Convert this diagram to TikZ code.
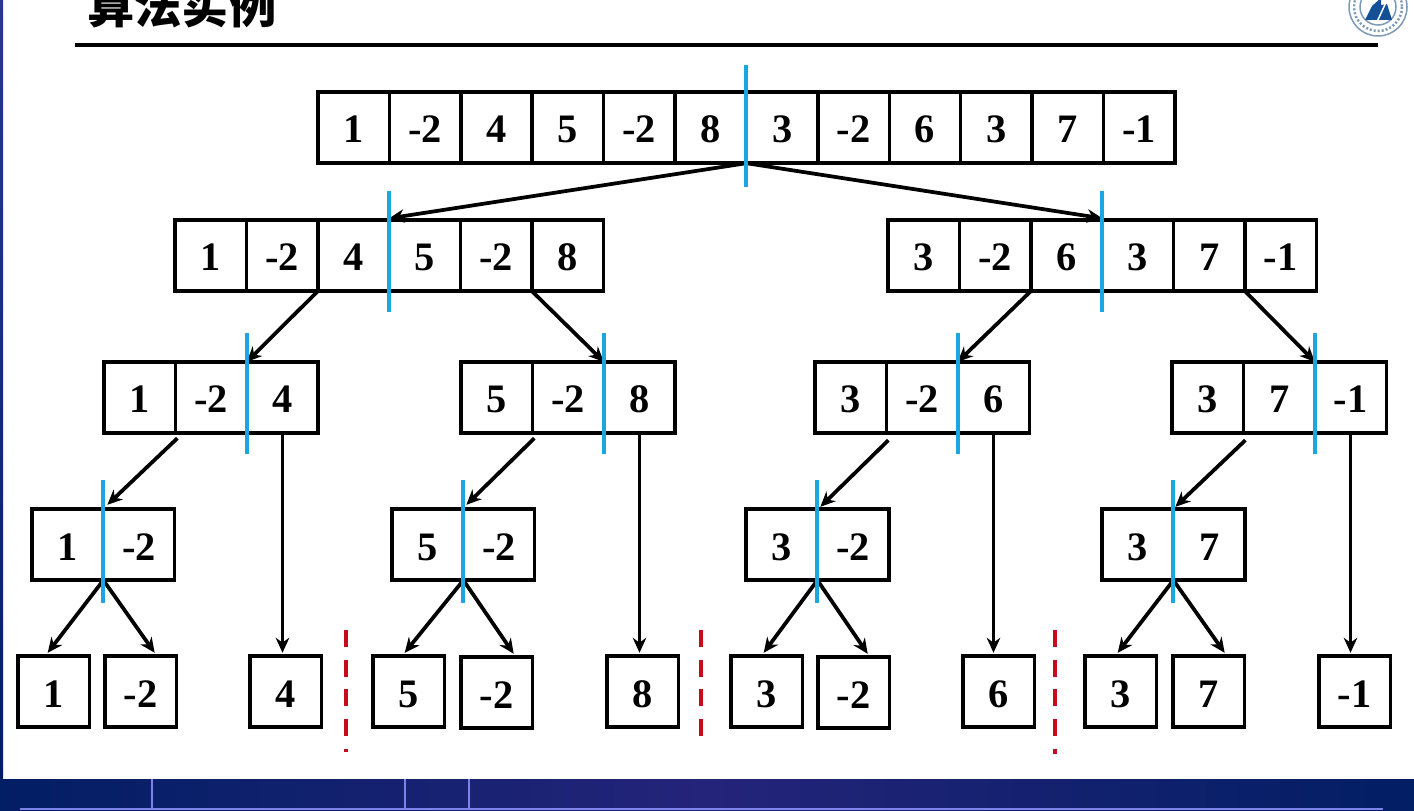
\documentclass[tikz,border=0pt]{standalone}
\usepackage{fontspec}
\setmainfont{Liberation Serif}
\newfontfamily\cjk{Noto Sans CJK SC}
\usetikzlibrary{arrows.meta, calc}
\definecolor{cutblue}{RGB}{28,166,224}
\definecolor{sepred}{RGB}{200,10,30}
\definecolor{bandnavy}{RGB}{2,30,100}
\definecolor{bandmid}{RGB}{36,36,122}
\definecolor{bandline}{RGB}{125,130,235}
\definecolor{striptop}{RGB}{40,56,140}
\definecolor{sealblue}{RGB}{20,80,150}
\definecolor{sealring}{RGB}{125,155,185}
% one row of joined cells: name, left edge, centre y, values
\newcommand{\cellrow}[4]{
    \foreach \val [count=\i] in {#4} {
        \node[cell] (#1\i) at ({#2+71.4*\i-35.7},#3) {\val};
    }
}

\begin{document}
\begin{tikzpicture}[x=0.02cm, y=-0.02cm,
    cell/.style={draw, line width=0.068cm, minimum width=1.428cm, minimum height=1.428cm, inner sep=0pt, outer sep=0pt, text height=0.62cm, text depth=0pt, font=\fontsize{23}{23}\selectfont\bfseries},
    cut/.style={cutblue, line width=0.08cm},
    link/.style={-{Stealth[length=0.3cm, width=0.27cm]}, line width=0.075cm},
    sep/.style={sepred, line width=0.065cm, dash pattern=on 0.34cm off 0.254cm},
    rule/.style={line width=0.075cm},
    bandedge/.style={bandline, line width=0.03cm}
]
\clip (0,0) rectangle (1414,811);
\fill[white] (0,0) rectangle (1414,811);

% Frame of the slide
\shade[top color=striptop, bottom color=bandnavy] (0,0) rectangle (3,779);
\shade[left color=bandnavy, right color=bandnavy, middle color=bandmid] (0,779) rectangle (1414,811);
\foreach \x in {152,405,469} {
    \draw[bandedge] (\x,779) -- (\x,809);
}
\draw[bandedge] (20,809) -- (1383,809);

% Title
\node[font=\cjk\fontsize{26.9}{26.9}\selectfont\bfseries, anchor=west, inner sep=0pt] (title) at (87,5) {算法实例};
\coordinate (ruleL) at (75,45);
\coordinate (ruleR) at (1378,45);
\draw[rule] (ruleL) -- (ruleR);

% Seal in the corner
\draw[sealring, line width=0.03cm] (1378,7) circle (29);
\draw[sealring, line width=0.05cm, dash pattern=on 0.04cm off 0.04cm] (1378,7) circle (24);
\draw[sealring, line width=0.03cm] (1378,7) circle (18);
\fill[sealblue] (1365,20) -- (1372,6) -- (1381,-2) -- (1381,20) -- cycle;
\fill[sealblue] (1381,20) -- (1381,5) -- (1387,4) -- (1392,20) -- cycle;
\draw[white, line width=0.03cm] (1376,24) -- (1388,-2);

% Whole array
\cellrow{top}{318}{127.5}{1,-2,4,5,-2,8,3,-2,6,3,7,-1}

% Two halves
\cellrow{left}{175}{255.5}{1,-2,4,5,-2,8}
\cellrow{right}{888}{255.5}{3,-2,6,3,7,-1}

% Four quarters
\cellrow{qa}{104}{397.5}{1,-2,4}
\cellrow{qb}{461}{397.5}{5,-2,8}
\cellrow{qc}{815}{397.5}{3,-2,6}
\cellrow{qd}{1172}{397.5}{3,7,-1}

% Pairs
\cellrow{pa}{32}{544.5}{1,-2}
\cellrow{pb}{392}{544.5}{5,-2}
\cellrow{pc}{746}{544.5}{3,-2}
\cellrow{pd}{1102}{544.5}{3,7}

% Single elements
\cellrow{la}{18}{691.5}{1}
\cellrow{lb}{105}{691.5}{-2}
\cellrow{lc}{250}{691.5}{4}
\cellrow{ld}{373}{691.5}{5}
\cellrow{le}{461}{692.5}{-2}
\cellrow{lf}{607}{691.5}{8}
\cellrow{lg}{731}{691.5}{3}
\cellrow{lh}{818}{692.5}{-2}
\cellrow{li}{963}{691.5}{6}
\cellrow{lj}{1085}{691.5}{3}
\cellrow{lk}{1173}{691.5}{7}
\cellrow{ll}{1319}{691.5}{-1}

% Arrows down to the halves
\draw[link] (top6.south east) -- ([yshift=0.03cm]left3.north east);
\draw[link] (top6.south east) -- ([yshift=0.03cm]right3.north east);

% Arrows down to the quarters
\draw[link] (left2.south east) -- (qa2.north east);
\draw[link] (left5.south east) -- (qb2.north east);
\draw[link] (right2.south east) -- (qc2.north east);
\draw[link] (right5.south east) -- (qd2.north east);

% Arrows down to the pairs
\draw[link] ([shift={(2,5)}]qa1.south east) -- ([shift={(4,-4)}]pa1.north east);
\draw[link] ([shift={(2,5)}]qb1.south east) -- ([shift={(3,-4)}]pb1.north east);
\draw[link] ([shift={(2,7)}]qc1.south east) -- ([shift={(3,-2)}]pc1.north east);
\draw[link] ([shift={(2,7)}]qd1.south east) -- ([shift={(2,-2)}]pd1.north east);

% Long arrows down to the singles
\draw[link] (qa3.south) -- ([yshift=0.06cm]qa3.south |- lc1.north);
\draw[link] (qb3.south) -- ([yshift=0.06cm]qb3.south |- lf1.north);
\draw[link] (qc3.south) -- ([yshift=0.06cm]qc3.south |- li1.north);
\draw[link] (qd3.south) -- ([yshift=0.06cm]qd3.south |- ll1.north);

% Arrows out of the pairs
\draw[link] (pa1.south east) -- ([shift={(-6,-3)}]la1.north);
\draw[link] (pa1.south east) -- ([shift={(14,-3)}]lb1.north);
\draw[link] (pb1.south east) -- ([shift={(-4,-3)}]ld1.north);
\draw[link] (pb1.south east) -- ([shift={(17,-3)}]le1.north);
\draw[link] (pc1.south east) -- ([shift={(-3,-3)}]lg1.north);
\draw[link] (pc1.south east) -- ([shift={(14,-3)}]lh1.north);
\draw[link] (pd1.south east) -- ([shift={(-3,-3)}]lj1.north);
\draw[link] (pd1.south east) -- ([shift={(16,-3)}]lk1.north);

% Blue split marks
\draw[cut] ($(top6.north east)+(0,-27)$) -- ($(top6.south east)+(0,24)$);
\foreach \cellname in {left3,right3,qa2,qb2,qc2,qd2} {
    \draw[cut] ($(\cellname.north east)+(0,-29)$) -- ($(\cellname.south east)+(0,21)$);
}
\foreach \cellname in {pa1,pb1,pc1,pd1} {
    \draw[cut] ($(\cellname.north east)+(0,-29)$) -- ($(\cellname.south east)+(0,23)$);
}

% Red separators
\coordinate (sepA) at (346,630);
\coordinate (sepB) at (701,630);
\coordinate (sepC) at (1055,630);
\draw[sep] (sepA) -- ++(0,122);
\draw[sep] (sepB) -- ++(0,108);
\draw[sep] (sepC) -- ++(0,124);

\end{tikzpicture}
\end{document}
